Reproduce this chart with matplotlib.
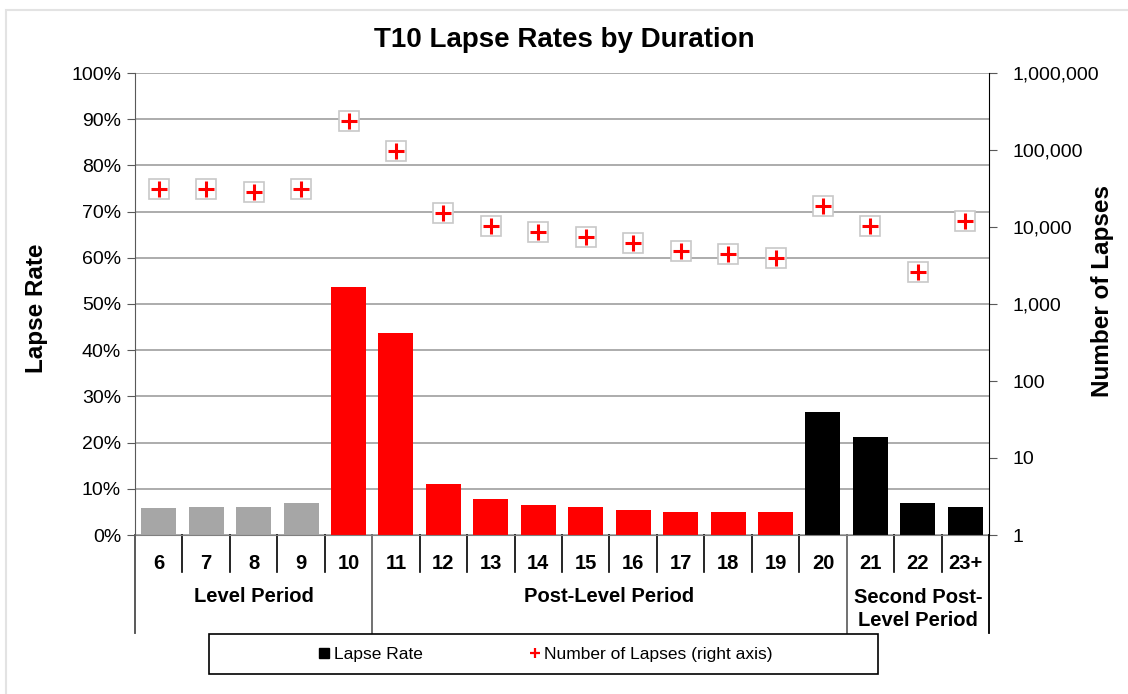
import numpy as np
import matplotlib
matplotlib.use('Agg')
import matplotlib.pyplot as plt
from matplotlib.patches import Rectangle
from matplotlib.lines import Line2D
import matplotlib.ticker as mticker

plt.rcParams['font.family'] = ['Liberation Sans', 'DejaVu Sans']

# data
durations = ['6', '7', '8', '9', '10', '11', '12', '13', '14', '15',
             '16', '17', '18', '19', '20', '21', '22', '23+']
lapse_rate = [5.8, 6.1, 6.1, 6.9, 53.7, 43.7, 11.0, 7.8, 6.5, 6.1,
              5.4, 5.0, 5.0, 5.0, 26.6, 21.2, 6.9, 6.1]
num_lapses = [31000, 31000, 28500, 31000, 240000, 97000, 15000, 10300, 8600, 7400,
              6200, 4900, 4450, 3950, 18700, 10300, 2600, 12000]
bar_colors = ['#A6A6A6'] * 4 + ['#FF0000'] * 10 + ['#000000'] * 4
groups = ['Level Period', 'Post-Level Period', 'Second Post-\nLevel Period']
group_bounds = [(0, 5), (5, 15), (15, 18)]

W, H = 1128, 694
fig = plt.figure(figsize=(W / 100, H / 100), dpi=100)

# light outer frame
fig.add_artist(Rectangle((6 / W, -0.05), 1.2, 1 - 10 / H + 0.05, transform=fig.transFigure,
                         fill=False, edgecolor='#E3E3E3', linewidth=1.5))

x0, x1, y0, y1 = 135, 989, 535, 73
ax = fig.add_axes([x0 / W, 1 - y0 / H, (x1 - x0) / W, (y0 - y1) / H])
n = len(durations)
x = np.arange(n)
pw, ph = x1 - x0, y0 - y1

ax.bar(x, lapse_rate, width=0.74, color=bar_colors, zorder=2)
ax.set_xlim(-0.5, n - 0.5)
ax.set_ylim(0, 100)
ax.yaxis.set_major_locator(mticker.MultipleLocator(10))
ax.yaxis.set_major_formatter(mticker.FuncFormatter(lambda v, p: f'{v:.0f}%'))
ax.grid(axis='y', color='#A6A6A6', linewidth=1.3, zorder=0)
ax.set_axisbelow(True)
for s in ['top', 'right']:
    ax.spines[s].set_visible(False)
ax.spines['left'].set_color('#595959')
ax.spines['bottom'].set_color('#808080')
ax.tick_params(axis='y', direction='out', length=6, color='#595959', labelsize=14, pad=4)
ax.set_ylabel('Lapse Rate', fontsize=17.5, fontweight='bold', va='center')
ax.yaxis.set_label_coords((36 - x0) / pw, (y0 - 308) / ph)

# category labels
ax.set_xticks(x)
ax.set_xticklabels(durations, fontsize=14.5, fontweight='bold')
ax.tick_params(axis='x', length=0, pad=14)

trans = ax.get_xaxis_transform()
short_y = -(572 - 535) / ph
long_y = -(633 - 535) / ph
bounds = {b for g in group_bounds for b in g}
for b in range(n + 1):
    xb = b - 0.5
    bottom = long_y if b in bounds else short_y
    ax.plot([xb, xb], [0, bottom], transform=trans, color='#595959' if b in bounds else 'black',
            linewidth=1.2, clip_on=False)
for name, (a, b) in zip(groups, group_bounds):
    gy = 597 if '\n' not in name else 609
    ax.text((a + b - 1) / 2, -(gy - 535) / ph, name,
            transform=trans, ha='center', va='center', fontsize=14.5, fontweight='bold',
            linespacing=1.25)

# right axis: number of lapses (log scale)
ax2 = ax.twinx()
ax2.set_yscale('log')
ax2.set_ylim(1, 1e6)
ax2.plot(x, num_lapses, linestyle='none', marker='s', markersize=14,
         markerfacecolor='white', markeredgecolor='#C8C8C8', markeredgewidth=1.2, zorder=3)
ax2.plot(x, num_lapses, linestyle='none', marker='+', markersize=11,
         color='#FF0000', markeredgewidth=2.2, zorder=4)
ax2.yaxis.set_major_locator(mticker.LogLocator(base=10, numticks=10))
ax2.yaxis.set_minor_locator(mticker.NullLocator())
ax2.yaxis.set_major_formatter(mticker.FuncFormatter(lambda v, p: f'{v:,.0f}'))
for s in ['top', 'left', 'bottom']:
    ax2.spines[s].set_visible(False)
ax2.spines['right'].set_color('black')
ax2.spines['right'].set_bounds(1, 1e6)
ax2.tick_params(axis='y', direction='out', length=6, color='#595959', labelsize=14, pad=11)
ax2.set_ylabel('Number of Lapses', fontsize=17.5, fontweight='bold', va='center')
ax2.yaxis.set_label_coords((1102 - x0) / pw, (y0 - 291) / ph)

# extend spines down through the category area
for xs, col in [(x0, '#595959'), (x1, 'black')]:
    fig.add_artist(Line2D([xs / W, xs / W], [1 - 633 / H, 1 - 535 / H],
                          transform=fig.transFigure, color=col, linewidth=1.2))

fig.suptitle('T10 Lapse Rates by Duration', fontsize=20, fontweight='bold', y=1 - 40 / H, va='center')

# legend box
fig.add_artist(Rectangle((209 / W, 1 - 674 / H), (878 - 209) / W, 40 / H, transform=fig.transFigure,
                         fill=False, edgecolor='black', linewidth=1.2))
handles = [Line2D([], [], linestyle='none', marker='s', color='black', markersize=6.5),
           Line2D([], [], linestyle='none', marker='+', color='#FF0000', markersize=7, markeredgewidth=1.6)]
fig.legend(handles, ['Lapse Rate', 'Number of Lapses (right axis)'], ncol=2, frameon=False,
           loc='center', bbox_to_anchor=((209 + 878) / 2 / W + 3 / W, 1 - 654 / H), fontsize=12.5,
           handlelength=0.5, handletextpad=0.3, columnspacing=6.2)

fig.savefig('out.png', dpi=100)
